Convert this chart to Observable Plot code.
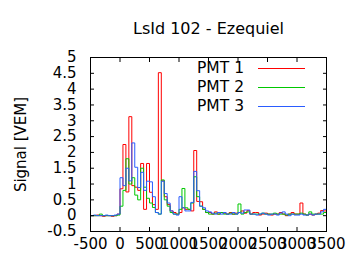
<!DOCTYPE html>
<html><head><meta charset="utf-8">
<script src="https://cdn.jsdelivr.net/npm/d3@7"></script>
<script src="https://cdn.jsdelivr.net/npm/@observablehq/plot@0.6"></script>
<style>body{margin:0;background:#fff}</style>
</head><body><div id="chart"></div>
<script>
const title = "LsId 102 - Ezequiel";
const yLabel = "Signal [VEM]";
const series = ["PMT 1", "PMT 2", "PMT 3"];
const colors = ["#ff0000", "#00c800", "#2a5cff"];
const binStart = -500;
const binWidth = 50;
const xTicks = [-500, 0, 500, 1000, 1500, 2000, 2500, 3000, 3500];
const yTicks = [-0.5, 0, 0.5, 1, 1.5, 2, 2.5, 3, 3.5, 4, 4.5, 5];

const pmt1 = [
  0.0, 0.0, 0.02, 0.0, -0.02, 0.0, 0.0, -0.02, 0.0, 0.05,
  0.85, 2.25, 0.75, 3.13, 0.95, 0.9, 0.8, 1.65, 0.2, 1.65,
  0.74, 0.35, 0.2, 4.52, 1.1, 0.6, 0.35, 0.15, 0.1, 0.05,
  0.1, 0.25, 0.2, 0.2, 0.15, 2.06, 0.45, 0.44, 0.2, 0.1,
  0.1, 0.05, 0.12, 0.05, 0.1, 0.08, 0.05, 0.1, 0.05, 0.08,
  0.1, 0.15, 0.08, 0.16, 0.05, 0.1, 0.1, 0.02, 0.05, 0.08,
  0.05, 0.02, 0.05, 0.05, 0.1, 0.05, 0.0, 0.05, 0.1, 0.05,
  0.05, 0.4, 0.05, 0.02, 0.05, 0.02, 0.05, 0.08, 0.16, 0.15
];
const pmt2 = [
  0.0, 0.0, 0.0, 0.05, 0.0, 0.0, 0.0, 0.0, 0.0, 0.02,
  0.3, 0.8, 1.8, 1.0, 1.2, 0.65, 0.5, 1.5, 0.9, 0.55,
  0.4, 0.26, 0.1, 0.05, 1.13, 0.5, 0.3, 0.1, 0.05, 0.05,
  0.2, 0.86, 0.25, 0.2, 0.4, 1.23, 0.6, 0.3, 0.2, 0.1,
  0.05, 0.05, 0.08, 0.05, 0.1, 0.05, 0.05, 0.08, 0.05, 0.05,
  0.37, 0.05, 0.1, 0.12, 0.05, 0.05, 0.05, 0.05, 0.08, 0.05,
  0.05, 0.05, 0.08, 0.05, 0.05, 0.05, 0.02, 0.05, 0.05, 0.05,
  0.05, 0.08, 0.05, 0.02, 0.12, 0.05, 0.05, 0.05, 0.05, 0.1
];
const pmt3 = [
  0.0, 0.02, 0.0, 0.0, 0.0, 0.02, 0.0, 0.0, 0.02, 0.05,
  1.2, 0.95, 1.5, 1.1, 2.3, 1.53, 0.89, 1.37, 0.8, 1.09,
  1.07, 0.6, 0.1, 0.05, 1.09, 0.7, 0.4, 0.15, 0.05, 0.02,
  0.6, 0.25, 0.15, 0.15, 0.42, 1.4, 0.79, 0.3, 0.25, 0.15,
  0.12, 0.08, 0.05, 0.1, 0.05, 0.1, 0.05, 0.05, 0.1, 0.05,
  0.1, 0.08, 0.18, 0.18, 0.05, 0.05, 0.02, 0.05, 0.08, 0.05,
  0.02, 0.05, 0.05, 0.02, 0.08, 0.12, 0.05, 0.0, 0.05, 0.02,
  0.02, 0.05, 0.02, 0.02, 0.05, 0.02, 0.05, 0.05, 0.12, 0.2
];

function steps(values, name) {
  const pts = values.map((v, i) => ({t: binStart + i * binWidth, v, name}));
  pts.push({t: binStart + values.length * binWidth, v: values[values.length - 1], name});
  return pts;
}
const data = [pmt1, pmt2, pmt3].map((vals, i) => steps(vals, series[i]));
const font = "DejaVu Sans, sans-serif";

const plot = Plot.plot({
  width: 360,
  height: 270,
  marginLeft: 90,
  marginRight: 34,
  marginTop: 57,
  marginBottom: 39,
  style: {fontFamily: font, fontSize: "15px", background: "white", color: "black"},
  x: {domain: [-500, 3500]},
  y: {domain: [-0.5, 5]},
  marks: [
    ...data.map((d, i) => Plot.line(d, {x: "t", y: "v", curve: "step-after", stroke: colors[i], strokeWidth: 1})),
    Plot.frame({stroke: "black", strokeWidth: 1}),
    Plot.axisX({ticks: xTicks, tickSize: 0, tickPadding: 7, label: null, tickFormat: d => String(d), fontSize: 15}),
    Plot.axisX({anchor: "bottom", ticks: xTicks, tickSize: -4, text: null, label: null}),
    Plot.axisX({anchor: "top", ticks: xTicks, tickSize: -4, text: null, label: null}),
    Plot.axisY({ticks: yTicks, tickSize: 0, tickPadding: 14, label: yLabel, labelAnchor: "center", labelArrow: "none", labelOffset: 75, tickFormat: d => String(d), fontSize: 15}),
    Plot.axisY({anchor: "left", ticks: yTicks, tickSize: -4, text: null, label: null}),
    Plot.axisY({anchor: "right", ticks: yTicks, tickSize: -4, text: null, label: null}),
    Plot.text([title], {frameAnchor: "top", lineAnchor: "middle", dy: -29, fontSize: 16, fill: "black"})
  ]
});
document.getElementById("chart").appendChild(plot);

// legend inside the frame, top right
const svg = d3.select(plot);
const legend = svg.append("g").attr("font-family", font).attr("font-size", 15.5);
series.forEach((name, i) => {
  const y = 68.5 + i * 19;
  legend.append("text").attr("x", 244).attr("y", y - 1).attr("dy", "0.35em").attr("text-anchor", "end").attr("fill", "black").text(name);
  legend.append("path").attr("d", `M258,${y}H305`).attr("fill", "none")
    .style("stroke", colors[i]).style("stroke-width", "1.1px");
});
</script>
</body></html>
